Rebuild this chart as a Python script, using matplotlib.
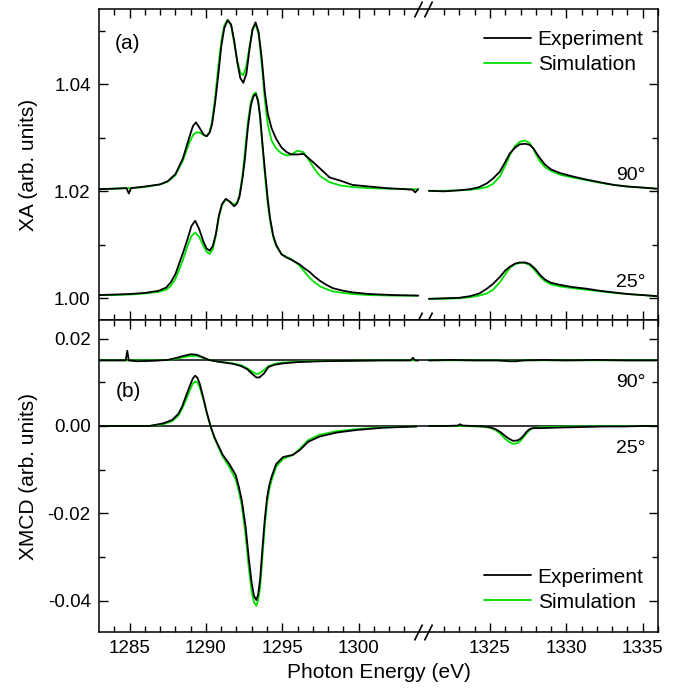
import numpy as np
import matplotlib
matplotlib.use("Agg")
import matplotlib.pyplot as plt
from matplotlib.path import Path
from matplotlib.ticker import FixedLocator, FormatStrFormatter

plt.rcParams["font.family"] = ["Liberation Sans", "DejaVu Sans"]
plt.rcParams["axes.unicode_minus"] = False

# ---------------- data ----------------
# XA, 90 deg (offset curve), L3/L2 edges
e_xa90_l = [1283.0, 1284.0, 1284.8, 1284.95, 1285.1, 1286.0, 1287.0, 1287.5, 1288.0, 1288.5,
            1288.9, 1289.15, 1289.35, 1289.6, 1289.85, 1290.05, 1290.25, 1290.4, 1290.6, 1290.8,
            1291.0, 1291.2, 1291.42, 1291.65, 1291.85, 1292.05, 1292.25, 1292.45, 1292.65, 1292.85,
            1293.05, 1293.25, 1293.45, 1293.65, 1293.86, 1294.05, 1294.3, 1294.6, 1294.95, 1295.3,
            1295.6, 1296.0, 1296.4, 1296.8, 1297.2, 1297.5, 1298.1, 1298.8, 1299.6, 1300.7,
            1301.8, 1303.1, 1303.55, 1303.7, 1303.9]
xa90_exp_l = [1.0204, 1.0205, 1.0206, 1.0196, 1.0206, 1.0209, 1.0213, 1.0219, 1.0232, 1.0262,
              1.0300, 1.0322, 1.0329, 1.0318, 1.0306, 1.0303, 1.0310, 1.0325, 1.0365, 1.0415,
              1.0470, 1.0505, 1.0520, 1.0512, 1.0482, 1.0442, 1.0412, 1.0403, 1.0420, 1.0465,
              1.0503, 1.0516, 1.0498, 1.0450, 1.0385, 1.0345, 1.0318, 1.0298, 1.0282, 1.0273,
              1.0269, 1.0269, 1.0270, 1.0260, 1.0250, 1.0242, 1.0226, 1.0220, 1.0212, 1.0209,
              1.0206, 1.0204, 1.0203, 1.0198, 1.0204]
xa90_sim_l = [1.0204, 1.0205, 1.0206, 1.0206, 1.0206, 1.0208, 1.0213, 1.0218, 1.0230, 1.0258,
              1.0290, 1.0305, 1.0310, 1.0310, 1.0305, 1.0303, 1.0312, 1.0330, 1.0375, 1.0430,
              1.0480, 1.0510, 1.0521, 1.0510, 1.0478, 1.0445, 1.0422, 1.0417, 1.0435, 1.0470,
              1.0502, 1.0513, 1.0494, 1.0440, 1.0370, 1.0325, 1.0295, 1.0280, 1.0271, 1.0267,
              1.0269, 1.0276, 1.0273, 1.0256, 1.0238, 1.0228, 1.0217, 1.0211, 1.0208, 1.0206,
              1.0205, 1.0204, 1.0204, 1.0204, 1.0204]

e_xa_r = [1321.0, 1322.0, 1323.0, 1323.7, 1324.3, 1324.8, 1325.2, 1325.65, 1326.0, 1326.3,
          1326.65, 1326.96, 1327.3, 1327.6, 1327.85, 1328.05, 1328.3, 1328.6, 1329.0, 1329.6,
          1330.4, 1331.3, 1332.2, 1333.1, 1334.0, 1335.0, 1335.9]
xa90_exp_r = [1.0201, 1.0200, 1.0202, 1.0204, 1.0208, 1.0215, 1.0224, 1.0237, 1.0255, 1.0271,
              1.0282, 1.0288, 1.0289, 1.0287, 1.0280, 1.0271, 1.0261, 1.0250, 1.0241, 1.0234,
              1.0228, 1.0222, 1.0217, 1.0212, 1.0209, 1.0207, 1.0205]
xa90_sim_r = [1.0201, 1.0201, 1.0202, 1.0203, 1.0205, 1.0208, 1.0214, 1.0228, 1.0248, 1.0268,
              1.0285, 1.0293, 1.0295, 1.0290, 1.0279, 1.0267, 1.0255, 1.0245, 1.0238, 1.0231,
              1.0226, 1.0221, 1.0216, 1.0212, 1.0209, 1.0207, 1.0205]

# XA, 25 deg
e_xa25_l = [1283.0, 1284.0, 1285.0, 1286.0, 1286.9, 1287.4, 1287.7, 1288.0, 1288.2, 1288.5,
            1288.8, 1289.05, 1289.3, 1289.55, 1289.85, 1290.05, 1290.25, 1290.45, 1290.65, 1290.85,
            1291.05, 1291.3, 1291.55, 1291.85, 1292.05, 1292.2, 1292.4, 1292.55, 1292.75, 1292.95,
            1293.12, 1293.27, 1293.42, 1293.55, 1293.7, 1293.86, 1294.05, 1294.2, 1294.4, 1294.6,
            1294.95, 1295.3, 1295.6, 1296.1, 1296.5, 1296.8, 1297.1, 1297.5, 1297.9, 1298.3,
            1299.0, 1299.6, 1300.7, 1302.3, 1303.9]
xa25_exp_l = [1.0006, 1.0007, 1.0008, 1.0010, 1.0014, 1.0020, 1.0030, 1.0045, 1.0061, 1.0085,
              1.0111, 1.0135, 1.0145, 1.0130, 1.0105, 1.0093, 1.0089, 1.0098, 1.0120, 1.0155,
              1.0176, 1.0186, 1.0181, 1.0172, 1.0178, 1.0190, 1.0225, 1.0260, 1.0320, 1.0362,
              1.0378, 1.0382, 1.0368, 1.0340, 1.0290, 1.0240, 1.0185, 1.0150, 1.0118, 1.0100,
              1.0082, 1.0076, 1.0072, 1.0064, 1.0055, 1.0049, 1.0041, 1.0032, 1.0025, 1.0019,
              1.0014, 1.0011, 1.0008, 1.0006, 1.0005]
xa25_sim_l = [1.0006, 1.0006, 1.0007, 1.0009, 1.0012, 1.0016, 1.0023, 1.0036, 1.0050, 1.0072,
              1.0098, 1.0116, 1.0123, 1.0115, 1.0097, 1.0087, 1.0083, 1.0092, 1.0117, 1.0152,
              1.0174, 1.0185, 1.0181, 1.0175, 1.0180, 1.0193, 1.0232, 1.0272, 1.0330, 1.0368,
              1.0382, 1.0385, 1.0370, 1.0338, 1.0285, 1.0232, 1.0177, 1.0145, 1.0115, 1.0098,
              1.0083, 1.0077, 1.0073, 1.0062, 1.0048, 1.0038, 1.0030, 1.0022, 1.0017, 1.0013,
              1.0010, 1.0008, 1.0006, 1.0005, 1.0005]
xa25_exp_r = [0.9999, 1.0000, 1.0001, 1.0004, 1.0009, 1.0018, 1.0027, 1.0040, 1.0052, 1.0059,
              1.0065, 1.0067, 1.0067, 1.0064, 1.0058, 1.0052, 1.0043, 1.0035, 1.0029, 1.0025,
              1.0021, 1.0018, 1.0014, 1.0011, 1.0008, 1.0006, 1.0004]
xa25_sim_r = [0.9999, 0.9999, 1.0000, 1.0002, 1.0005, 1.0009, 1.0016, 1.0030, 1.0045, 1.0057,
              1.0064, 1.0066, 1.0066, 1.0062, 1.0055, 1.0048, 1.0040, 1.0032, 1.0026, 1.0022,
              1.0019, 1.0016, 1.0013, 1.0010, 1.0008, 1.0006, 1.0004]

# XMCD, 90 deg (shown shifted by xmcd90_offset)
xmcd90_offset = 0.015
e_xmcd90_l = [1283.0, 1284.0, 1284.75, 1284.85, 1284.95, 1285.5, 1286.5, 1287.5, 1288.0, 1288.5,
              1289.0, 1289.4, 1289.8, 1290.2, 1290.8, 1291.4, 1291.8, 1292.3, 1292.7, 1293.0,
              1293.3, 1293.5, 1293.8, 1294.1, 1294.5, 1295.0, 1296.0, 1297.5, 1299.5, 1301.5,
              1303.4, 1303.55, 1303.7, 1303.9]
xmcd90_exp_l = [0.0000, 0.0000, 0.0000, 0.0022, 0.0000, -0.0002, -0.0001, 0.0001, 0.0005, 0.0010,
                0.0014, 0.0013, 0.0007, 0.0001, -0.0003, -0.0006, -0.0008, -0.0013, -0.0020, -0.0030,
                -0.0039, -0.0039, -0.0030, -0.0015, -0.0010, -0.0007, -0.0004, -0.0002, -0.0001, 0.0000,
                0.0000, 0.0006, 0.0000, 0.0000]
xmcd90_sim_l = [0.0000, 0.0000, 0.0000, 0.0000, 0.0000, 0.0000, 0.0000, 0.0001, 0.0003, 0.0007,
                0.0010, 0.0010, 0.0006, 0.0001, -0.0003, -0.0005, -0.0007, -0.0011, -0.0018, -0.0025,
                -0.0031, -0.0030, -0.0022, -0.0013, -0.0008, -0.0005, -0.0003, -0.0001, -0.0001, 0.0000,
                0.0000, 0.0000, 0.0000, 0.0000]
e_xmcd90_r = [1321.0, 1322.5, 1324.0, 1325.5, 1326.3, 1326.7, 1327.2, 1328.5, 1330.0, 1332.0,
              1334.0, 1335.9]
xmcd90_exp_r = [0.0000, 0.0001, 0.0000, 0.0000, -0.0002, -0.0002, 0.0000, 0.0001, 0.0000, 0.0001,
                0.0000, 0.0000]
xmcd90_sim_r = [0.0000, 0.0000, 0.0000, 0.0000, -0.0001, -0.0001, 0.0000, 0.0000, 0.0000, 0.0000,
                0.0000, 0.0000]

# XMCD, 25 deg
e_xmcd25_l = [1283.0, 1284.5, 1286.3, 1287.2, 1287.8, 1288.2, 1288.45, 1288.7, 1288.95, 1289.15,
              1289.3, 1289.45, 1289.6, 1289.85, 1290.05, 1290.3, 1290.55, 1290.75, 1291.1, 1291.5,
              1291.95, 1292.15, 1292.35, 1292.6, 1292.8, 1293.0, 1293.15, 1293.3, 1293.42, 1293.55,
              1293.7, 1293.85, 1294.0, 1294.15, 1294.3, 1294.6, 1295.05, 1295.7, 1296.15, 1296.7,
              1297.45, 1298.55, 1299.9, 1301.6, 1303.8]
xmcd25_exp_l = [0.0000, 0.0000, 0.0000, 0.0006, 0.0014, 0.0028, 0.0045, 0.0069, 0.0092, 0.0109,
                0.0115, 0.0110, 0.0096, 0.0062, 0.0032, 0.0000, -0.0025, -0.0040, -0.0066, -0.0085,
                -0.0112, -0.0138, -0.0170, -0.0231, -0.0300, -0.0360, -0.0388, -0.0398, -0.0385, -0.0350,
                -0.0280, -0.0215, -0.0165, -0.0135, -0.0116, -0.0087, -0.0071, -0.0066, -0.0055, -0.0036,
                -0.0024, -0.0015, -0.0009, -0.0004, -0.0001]
xmcd25_sim_l = [0.0000, 0.0000, 0.0000, 0.0004, 0.0011, 0.0024, 0.0040, 0.0060, 0.0082, 0.0097,
                0.0102, 0.0099, 0.0088, 0.0058, 0.0030, 0.0000, -0.0027, -0.0043, -0.0070, -0.0092,
                -0.0122, -0.0148, -0.0182, -0.0250, -0.0322, -0.0380, -0.0403, -0.0411, -0.0398, -0.0368,
                -0.0300, -0.0230, -0.0178, -0.0145, -0.0124, -0.0093, -0.0075, -0.0066, -0.0052, -0.0032,
                -0.0020, -0.0012, -0.0007, -0.0003, -0.0001]
e_xmcd25_r = [1321.0, 1322.0, 1322.9, 1323.05, 1323.2, 1324.0, 1324.6, 1325.0, 1325.35, 1325.65,
              1325.9, 1326.15, 1326.5, 1326.8, 1327.0, 1327.2, 1327.4, 1327.6, 1327.8, 1328.3,
              1329.1, 1330.2, 1331.3, 1332.5, 1333.8, 1335.0, 1335.9]
xmcd25_exp_r = [0.0000, 0.0000, 0.0001, 0.0004, 0.0001, 0.0000, -0.0001, -0.0003, -0.0007, -0.0013,
                -0.0020, -0.0027, -0.0034, -0.0033, -0.0029, -0.0022, -0.0013, -0.0007, -0.0005, -0.0005,
                -0.0004, -0.0003, -0.0002, -0.0001, -0.0001, 0.0000, 0.0000]
xmcd25_sim_r = [0.0000, 0.0000, 0.0000, 0.0000, 0.0000, -0.0001, -0.0002, -0.0004, -0.0009, -0.0017,
                -0.0026, -0.0034, -0.0041, -0.0039, -0.0034, -0.0025, -0.0017, -0.0009, -0.0005, -0.0003,
                -0.0002, -0.0001, -0.0001, 0.0000, 0.0000, 0.0000, 0.0000]

x_major = [1285, 1290, 1295, 1300, 1325, 1330, 1335]
x_minor = list(range(1284, 1304)) + list(range(1322, 1337))
xa_major = [1.00, 1.02, 1.04]
xa_minor = [1.01, 1.03, 1.05]
xmcd_major = [-0.04, -0.02, 0.00, 0.02]
xmcd_minor = [-0.03, -0.01, 0.01]

# ---------------- broken energy axis ----------------
BRK_LO, BRK_HI = 1304.2, 1320.6
GAP = BRK_HI - BRK_LO


def fwd(x):
    x = np.asarray(x, dtype=float)
    return np.where(x >= BRK_HI, x - GAP, np.minimum(x, BRK_LO))


def inv(y):
    y = np.asarray(y, dtype=float)
    return np.where(y > BRK_LO, y + GAP, y)


def joined(e_l, v_l, e_r, v_r, offset=0.0):
    e = np.concatenate([e_l, [np.nan], e_r])
    v = np.concatenate([v_l, [np.nan], v_r]) + offset
    return e, v


BLACK = "#000000"
GREEN = "#00e000"
LW = 1.3
FS_TICK = 13.5
FS_LAB = 15
LINE_KW = dict(lw=LW, solid_joinstyle="round", solid_capstyle="round")

fig = plt.figure(figsize=(6.81, 6.96), dpi=100)
ax_a = fig.add_axes([99 / 681, 1 - 320 / 696, 559 / 681, 311 / 696])
ax_b = fig.add_axes([99 / 681, 1 - 632 / 696, 559 / 681, 312 / 696])

for ax in (ax_a, ax_b):
    ax.set_xscale("function", functions=(fwd, inv))
    ax.set_xlim(1283, 1336)
    ax.xaxis.set_major_locator(FixedLocator(x_major))
    ax.xaxis.set_minor_locator(FixedLocator(x_minor))
    ax.tick_params(which="both", direction="in", top=True, right=True,
                   labelsize=FS_TICK, width=1.0)
    ax.tick_params(which="major", length=6.5, pad=6)
    ax.tick_params(which="minor", length=4)
    for s in ax.spines.values():
        s.set_linewidth(1.1)

legend_kw = dict(loc="upper right", frameon=False, fontsize=FS_LAB,
                 handlelength=2.27, handletextpad=0.3, labelspacing=0.29,
                 borderpad=0, borderaxespad=0)

# ---- panel (a): XA ----
for e_l, sim_l, exp_l, sim_r, exp_r in [
        (e_xa90_l, xa90_sim_l, xa90_exp_l, xa90_sim_r, xa90_exp_r),
        (e_xa25_l, xa25_sim_l, xa25_exp_l, xa25_sim_r, xa25_exp_r)]:
    e, v = joined(e_l, sim_l, e_xa_r, sim_r)
    h_sim, = ax_a.plot(e, v, color=GREEN, zorder=2, **LINE_KW)
    e, v = joined(e_l, exp_l, e_xa_r, exp_r)
    h_exp, = ax_a.plot(e, v, color=BLACK, zorder=3, **LINE_KW)

ax_a.set_ylim(0.99594, 1.0541)
ax_a.yaxis.set_major_locator(FixedLocator(xa_major))
ax_a.yaxis.set_minor_locator(FixedLocator(xa_minor))
ax_a.yaxis.set_major_formatter(FormatStrFormatter("%.2f"))
ax_a.tick_params(labelbottom=False)
ax_a.set_ylabel("XA (arb. units)", fontsize=FS_LAB)
ax_a.yaxis.set_label_coords(-0.11, 0.5)
ax_a.text(0.051, 0.889, "(a)", transform=ax_a.transAxes, fontsize=FS_LAB,
          ha="center", va="center")
ax_a.text(0.951, 0.450, "90°", transform=ax_a.transAxes, fontsize=14,
          ha="center", va="baseline")
ax_a.text(0.951, 0.105, "25°", transform=ax_a.transAxes, fontsize=14,
          ha="center", va="baseline")
ax_a.legend([h_exp, h_sim], ["Experiment", "Simulation"],
            bbox_to_anchor=(0.974, 0.933), **legend_kw)

# ---- panel (b): XMCD ----
ax_b.axhline(xmcd90_offset, color=BLACK, lw=1.1, zorder=1)
ax_b.axhline(0.0, color=BLACK, lw=1.1, zorder=1)
for e_l, sim_l, exp_l, e_r, sim_r, exp_r, off in [
        (e_xmcd90_l, xmcd90_sim_l, xmcd90_exp_l, e_xmcd90_r, xmcd90_sim_r, xmcd90_exp_r, xmcd90_offset),
        (e_xmcd25_l, xmcd25_sim_l, xmcd25_exp_l, e_xmcd25_r, xmcd25_sim_r, xmcd25_exp_r, 0.0)]:
    e, v = joined(e_l, sim_l, e_r, sim_r, off)
    h_sim, = ax_b.plot(e, v, color=GREEN, zorder=2, **LINE_KW)
    e, v = joined(e_l, exp_l, e_r, exp_r, off)
    h_exp, = ax_b.plot(e, v, color=BLACK, zorder=3, **LINE_KW)

ax_b.set_ylim(-0.04709, 0.02423)
ax_b.yaxis.set_major_locator(FixedLocator(xmcd_major))
ax_b.yaxis.set_minor_locator(FixedLocator(xmcd_minor))
ax_b.yaxis.set_major_formatter(FormatStrFormatter("%.2f"))
ax_b.set_ylabel("XMCD (arb. units)", fontsize=FS_LAB)
ax_b.yaxis.set_label_coords(-0.11, 0.5)
ax_b.set_xlabel("Photon Energy (eV)", fontsize=FS_LAB)
ax_b.xaxis.set_label_coords(0.5, -0.099)
ax_b.xaxis.label.set_va("top")
ax_b.text(0.0525, 0.770, "(b)", transform=ax_b.transAxes, fontsize=FS_LAB,
          ha="center", va="center")
ax_b.text(0.951, 0.784, "90°", transform=ax_b.transAxes, fontsize=14,
          ha="center", va="baseline")
ax_b.text(0.951, 0.575, "25°", transform=ax_b.transAxes, fontsize=14,
          ha="center", va="baseline")
ax_b.legend([h_exp, h_sim], ["Experiment", "Simulation"],
            bbox_to_anchor=(0.974, 0.206), **legend_kw)

# ---- axis-break marks ----
slash = Path([(-0.5, -1.0), (0.5, 1.0)], [Path.MOVETO, Path.LINETO])
brk_x = inv(np.array([BRK_LO - 0.33, BRK_LO + 0.33]))
for ax, ys in ((ax_a, (0.0, 1.0)), (ax_b, (0.0,))):
    for y in ys:
        ax.plot(brk_x, [y, y], transform=ax.get_xaxis_transform(), ls="none",
                marker=slash, ms=11.5, mew=1.2, mec=BLACK, clip_on=False, zorder=5)

fig.savefig("out.png", dpi=100)
